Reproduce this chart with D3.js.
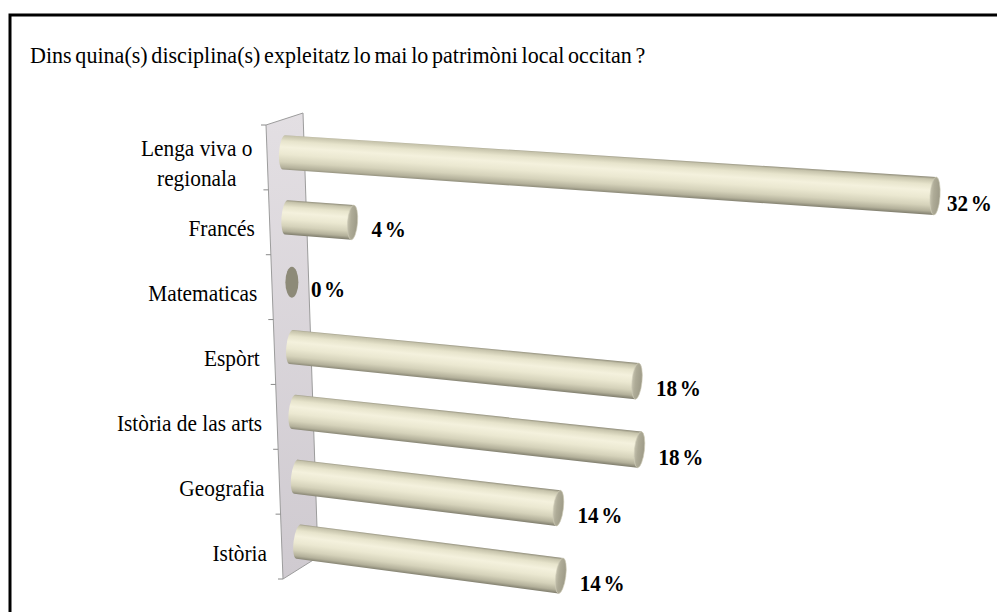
<!DOCTYPE html>
<html>
<head>
<meta charset="utf-8">
<script src="https://cdn.jsdelivr.net/npm/d3@7"></script>
<style>
  html, body { margin: 0; padding: 0; background: #fff; }
  svg { display: block; }
</style>
</head>
<body>
<svg id="chart" width="997" height="612" font-family="'Liberation Serif', 'Times New Roman', serif"></svg>
<script>
// ---- data ----
const title = "Dins quina(s) disciplina(s) expleitatz lo mai lo patrimòni local occitan ?";
const categories = ["Lenga viva o\nregionala", "Francés", "Matematicas", "Espòrt", "Istòria de las arts", "Geografia", "Istòria"];
const values = [32, 4, 0, 18, 18, 14, 14];
const valueLabels = ["32 %", "4 %", "0 %", "18 %", "18 %", "14 %", "14 %"];

// ---- layout ----
const W = 997, H = 612;
const svg = d3.select("#chart");
const defs = svg.append("defs");

// outer frame
svg.append("rect").attr("x", 10).attr("y", 15).attr("width", 1000).attr("height", 620)
  .attr("fill", "#fff").attr("stroke", "#000").attr("stroke-width", 3);

// condensed text helper
function ctext(parent, x, yb, sx, size) {
  return parent.append("g").attr("transform", `translate(${x},${yb}) scale(${sx},1)`)
    .append("text").attr("font-size", size).attr("fill", "#000");
}

ctext(svg, 30, 63, 0.92, 24).attr("word-spacing", -2).text(title);

// wall (3D back panel)
const wall = { tl: [266, 125], tr: [303, 113], br: [318, 557], bl: [283, 579] };
const wallLeftX = y => wall.tl[0] + (y - wall.tl[1]) * (wall.bl[0] - wall.tl[0]) / (wall.bl[1] - wall.tl[1]);

const wg = defs.append("linearGradient").attr("id", "wallGrad").attr("x1", 0).attr("y1", 0).attr("x2", 0).attr("y2", 1);
wg.append("stop").attr("offset", 0).attr("stop-color", "#e3dfe3");
wg.append("stop").attr("offset", 1).attr("stop-color", "#cfcad0");

svg.append("path")
  .attr("d", d3.line()([wall.tl, wall.tr, wall.br, wall.bl]) + "Z")
  .attr("fill", "url(#wallGrad)").attr("stroke", "#9c9c9c").attr("stroke-width", 1);

// category scale (along the wall)
const y = d3.scaleBand().domain(categories).range([wall.tl[1], wall.bl[1]]);
const bw = y.bandwidth();

// ticks at band boundaries
const tickYs = categories.map(c => y(c)).concat([wall.bl[1]]);
svg.append("g").selectAll("line").data(tickYs).join("line")
  .attr("x1", d => wallLeftX(d) - 5).attr("x2", d => wallLeftX(d))
  .attr("y1", d => d).attr("y2", d => d)
  .attr("stroke", "#8a8a8a").attr("stroke-width", 1);

// length scale (perspective-ish)
const len = d3.scalePow().exponent(1.1).domain([0, 32]).range([0, 651]);
const VP = [-5813, -256]; // vanishing point
const r0 = 17.2;

// gradients for cylinders
const bg = defs.append("linearGradient").attr("id", "barGrad").attr("x1", 0).attr("y1", 0).attr("x2", 0).attr("y2", 1);
[[0, "#8e8b79"], [0.06, "#c6c3ab"], [0.2, "#e7e4cc"], [0.36, "#f4f1dd"], [0.55, "#ebe8d1"], [0.75, "#d5d2ba"], [0.9, "#b3b09a"], [1, "#7e7c6c"]]
  .forEach(([o, c]) => bg.append("stop").attr("offset", o).attr("stop-color", c));
const cg = defs.append("linearGradient").attr("id", "capGrad").attr("x1", 0).attr("y1", 0).attr("x2", 1).attr("y2", 0);
[[0, "#c4c1ad"], [0.35, "#aeab97"], [1, "#9d9a87"]]
  .forEach(([o, c]) => cg.append("stop").attr("offset", o).attr("stop-color", c));

const rows = categories.map((c, i) => {
  const y0 = y(c) + bw / 2 - 5;
  const x0 = wallLeftX(y0) + 17;
  const x1 = x0 + len(values[i]);
  const slope = (y0 - VP[1]) / (x0 - VP[0]);
  const y1 = y0 + (x1 - x0) * slope;
  const r1 = r0 * (x1 - VP[0]) / (x0 - VP[0]);
  const L = Math.hypot(x1 - x0, y1 - y0);
  const ang = Math.atan2(y1 - y0, x1 - x0) * 180 / Math.PI;
  return { c, i, v: values[i], x0, y0, x1, y1, r1, L, ang };
});

const bars = svg.append("g").selectAll("g").data(rows).join("g")
  .attr("transform", d => `translate(${d.x0},${d.y0}) rotate(${d.ang})`);

bars.filter(d => d.v > 0).append("path")
  .attr("d", d => `M0,${-r0} L${d.L},${-d.r1} L${d.L},${d.r1} L0,${r0} A5,${r0} 0 0 1 0,${-r0} Z`)
  .attr("fill", "url(#barGrad)");

bars.append("ellipse")
  .attr("cx", d => d.v > 0 ? d.L : 3).attr("cy", 0)
  .attr("rx", d => d.v > 0 ? 5 : 6.5).attr("ry", d => d.v > 0 ? d.r1 : 15.5)
  .attr("fill", d => d.v > 0 ? "url(#capGrad)" : "#8d8a78")
  .attr("stroke", d => d.v > 0 ? "#cfccb8" : "none").attr("stroke-width", 0.6);

// category labels
const LSX = 0.89;
rows.forEach(d => {
  const lines = d.c.split("\n");
  const yc = y(d.c) + bw / 2 + 6;
  const right = wallLeftX(yc) - 15;
  const lh = 30;
  const t = ctext(svg, right, yc + 8, LSX, 24);
  lines.forEach((ln, k) => {
    t.append("tspan").attr("x", 0).attr("y", (k - (lines.length - 1) / 2) * lh).text(ln);
  });
  const widths = [];
  t.selectAll("tspan").each(function () { widths.push(this.getComputedTextLength()); });
  const maxW = d3.max(widths);
  t.attr("text-anchor", "middle");
  t.selectAll("tspan").attr("x", -maxW / 2);
});

// value labels
rows.forEach((d, i) => {
  let x = d.x1 + (d.v > 0 ? 5 : 8) + 14;
  x = Math.min(x, W - 50);
  ctext(svg, x, d.y1 + 7 + 8, 0.88, 24)
    .attr("font-weight", "bold").attr("word-spacing", -3)
    .text(valueLabels[i]);
});
</script>
</body>
</html>
